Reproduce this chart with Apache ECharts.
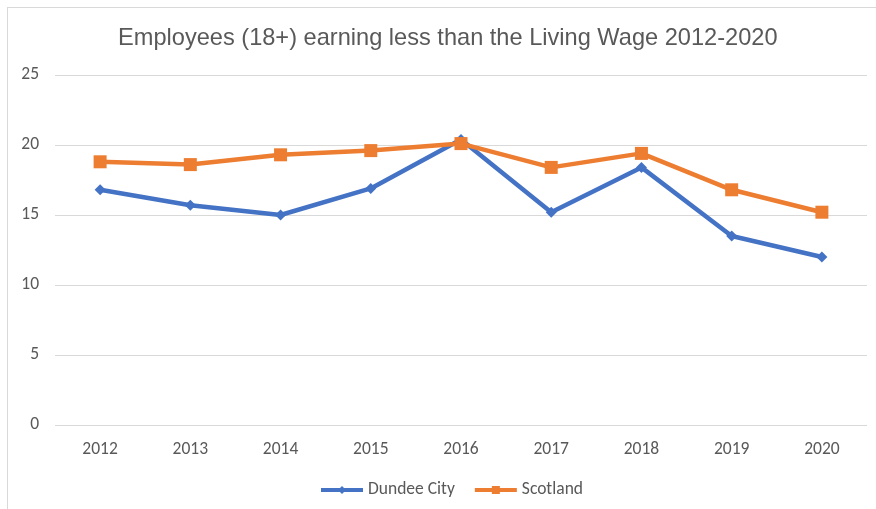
<!DOCTYPE html>
<html>
<head>
<meta charset="utf-8">
<script src="https://cdn.jsdelivr.net/npm/echarts@6/dist/echarts.min.js"></script>
<style>
  html, body { margin: 0; padding: 0; background: #fff; }
  #frame { position: absolute; left: 7px; top: 7px; width: 900px; height: 520px;
           border-left: 1px solid #d9d9d9; border-top: 1px solid #d9d9d9; }
  #chart { position: absolute; left: 0; top: 0; width: 876px; height: 509px; }
</style>
</head>
<body>
<div id="frame"></div>
<div id="chart"></div>
<script>
// data
const years = ['2012', '2013', '2014', '2015', '2016', '2017', '2018', '2019', '2020'];
const dundee = [16.8, 15.7, 15.0, 16.9, 20.4, 15.2, 18.4, 13.5, 12.0];
const scotland = [18.8, 18.6, 19.3, 19.6, 20.1, 18.4, 19.4, 16.8, 15.2];
const yTicks = [0, 5, 10, 15, 20, 25];

const font = 'Carlito, Calibri, "Open Sans", sans-serif';
const grey = '#595959';

const myChart = echarts.init(document.getElementById('chart'));
myChart.setOption({
  animation: false,
  title: {
    text: 'Employees (18+) earning less than the Living Wage 2012-2020',
    left: 113,
    top: 21,
    textStyle: { color: grey, fontSize: 23.6, fontWeight: 'normal', fontFamily: '"Liberation Sans", Arial, sans-serif' }
  },
  legend: {
    bottom: 5,
    left: 314,
    itemWidth: 42,
    itemHeight: 10,
    itemGap: 18,
    lineStyle: { width: 4 },
    textStyle: { color: grey, fontSize: 17.5, fontFamily: font },
    data: ['Dundee City', 'Scotland']
  },
  grid: { left: 55, right: 9, top: 75, bottom: 84 },
  xAxis: {
    type: 'category',
    data: years,
    boundaryGap: true,
    axisLine: { show: false },
    axisTick: { show: false },
    axisLabel: { color: grey, fontSize: 17.5, fontFamily: font, margin: 16 }
  },
  yAxis: {
    type: 'value',
    min: yTicks[0],
    max: yTicks[yTicks.length - 1],
    interval: yTicks[1] - yTicks[0],
    axisLine: { show: false },
    axisTick: { show: false },
    axisLabel: { color: grey, fontSize: 17.5, fontFamily: font, margin: 16 },
    splitLine: { lineStyle: { color: '#d9d9d9', width: 1 } }
  },
  series: [
    {
      name: 'Dundee City',
      type: 'line',
      data: dundee,
      symbol: 'diamond',
      symbolSize: 11,
      lineStyle: { color: '#4472c4', width: 4.5 },
      itemStyle: { color: '#4472c4' }
    },
    {
      name: 'Scotland',
      type: 'line',
      data: scotland,
      symbol: 'rect',
      symbolSize: 13,
      lineStyle: { color: '#ed7d31', width: 4.5 },
      itemStyle: { color: '#ed7d31' }
    }
  ]
});
</script>
</body>
</html>
